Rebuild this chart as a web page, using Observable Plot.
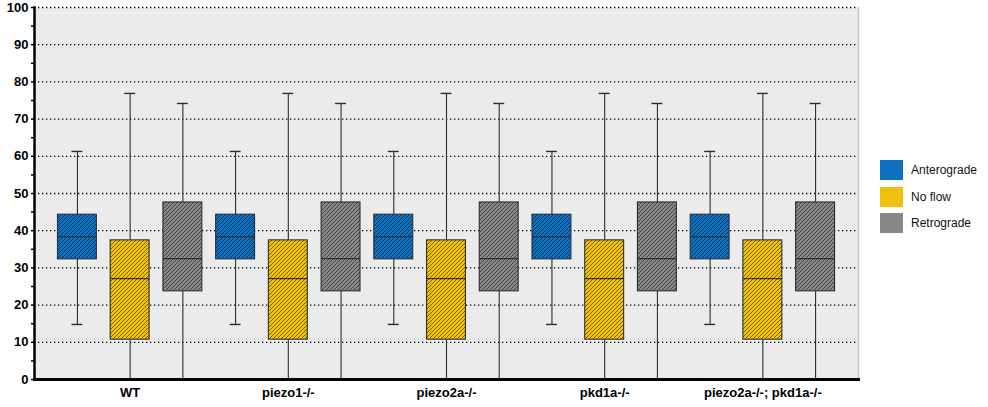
<!DOCTYPE html>
<html>
<head>
<meta charset="utf-8">
<script src="https://cdn.jsdelivr.net/npm/d3@7"></script>
<script src="https://cdn.jsdelivr.net/npm/@observablehq/plot@0.6"></script>
<style>
  html, body { margin: 0; padding: 0; background: #fff; }
  #wrap { position: relative; width: 988px; height: 407px; font-family: "Liberation Sans", Arial, sans-serif; }
  #legend { position: absolute; left: 880px; top: 160px; }
  .item { display: flex; align-items: center; height: 20px; margin-bottom: 6.5px; font-size: 12px; color: #111; }
  .sw { width: 23px; height: 20px; margin-right: 8px; }
</style>
</head>
<body>
<div id="wrap"><div id="legend"></div></div>
<script>
// Categories
const groups = ["WT", "piezo1-/-", "piezo2a-/-", "pkd1a-/-", "piezo2a-/-; pkd1a-/-"];
const series = ["Anterograde", "No flow", "Retrograde"];
const colors = ["#0f70c0", "#f0c010", "#878787"];
// Box statistics per series (identical in every group in the reference)
const low    = [14.8, 0, 0];
const q1     = [32.3, 10.7, 23.7];
const median = [38.4, 27.1, 32.5];
const q3     = [44.3, 37.4, 47.6];
const high   = [61.3, 76.9, 74.2];
// Axis ticks
const yMinorTicks = d3.range(0, 101, 5);
const gridTicks = d3.range(10, 101, 10);

const rows = [];
for (const g of groups) {
  series.forEach((s, i) => {
    rows.push({group: g, series: s, key: g + "|" + s,
      low: low[i], q1: q1[i], median: median[i], q3: q3[i], high: high[i]});
  });
}
const keys = rows.map(d => d.key);

const chart = Plot.plot({
  width: 988, height: 407,
  marginLeft: 34, marginRight: 130, marginTop: 7, marginBottom: 28,
  style: {fontFamily: "'Liberation Sans', Arial, sans-serif", background: "transparent", color: "#000"},
  x: {type: "band", domain: keys, paddingInner: 0.262, paddingOuter: 0.445, round: false, axis: null},
  y: {domain: [0, 100], axis: null},
  color: {domain: series, range: colors},
  marks: [
    Plot.frame({fill: "#ebebeb", stroke: "none"}),
    Plot.frame({anchor: "right", stroke: "#c4c4c4", strokeWidth: 1.5}),
    Plot.ruleY(gridTicks, {stroke: "#000", strokeWidth: 1.3, strokeDasharray: "1.3,2.7"}),
    Plot.ruleX(rows, {x: "key", y1: "low", y2: "q1", stroke: "#2e2e2e", strokeWidth: 1.1}),
    Plot.ruleX(rows, {x: "key", y1: "q3", y2: "high", stroke: "#2e2e2e", strokeWidth: 1.1}),
    Plot.tickY(rows, {x: "key", y: "high", insetLeft: 14, insetRight: 14, stroke: "#2e2e2e", strokeWidth: 1.4}),
    Plot.tickY(rows.filter(d => d.low > 0), {x: "key", y: "low", insetLeft: 14, insetRight: 14, stroke: "#2e2e2e", strokeWidth: 1.4}),
    Plot.barY(rows, {x: "key", y1: "q1", y2: "q3", fill: "series"}),
    Plot.barY(rows, {x: "key", y1: "q1", y2: "q3", fill: "url(#hatch)", stroke: "#2a2f36", strokeWidth: 1.1}),
    Plot.tickY(rows, {x: "key", y: "median", stroke: "#2a2f36", strokeWidth: 1.2}),
    Plot.axisY({ticks: yMinorTicks, tickSize: 3, tickPadding: 3, strokeWidth: 1.5,
      tickFormat: d => d % 10 === 0 ? d : "", fontSize: 13, fontWeight: "bold", label: null}),
    Plot.axisX({tickSize: 0, tickPadding: 8, fontSize: 13, fontWeight: "bold", label: null,
      tickFormat: k => k.endsWith("|No flow") ? k.split("|")[0] : ""}),
    Plot.frame({anchor: "left", stroke: "#000", strokeWidth: 2.5}),
    Plot.frame({anchor: "bottom", stroke: "#000", strokeWidth: 3})
  ]
});

// hatch pattern definition
const ns = "http://www.w3.org/2000/svg";
const defs = document.createElementNS(ns, "defs");
defs.innerHTML = `<pattern id="hatch" patternUnits="userSpaceOnUse" width="4" height="4">
  <path d="M-1,1 l2,-2 M0,4 l4,-4 M3,5 l2,-2" stroke="#000" stroke-opacity="0.55" stroke-width="0.9"/>
</pattern>`;
chart.insertBefore(defs, chart.firstChild);

const wrap = document.getElementById("wrap");
wrap.insertBefore(chart, wrap.firstChild);

const legend = document.getElementById("legend");
series.forEach((s, i) => {
  const item = document.createElement("div");
  item.className = "item";
  item.innerHTML = `<div class="sw" style="background:${colors[i]}"></div><span>${s}</span>`;
  legend.appendChild(item);
});
</script>
</body>
</html>
